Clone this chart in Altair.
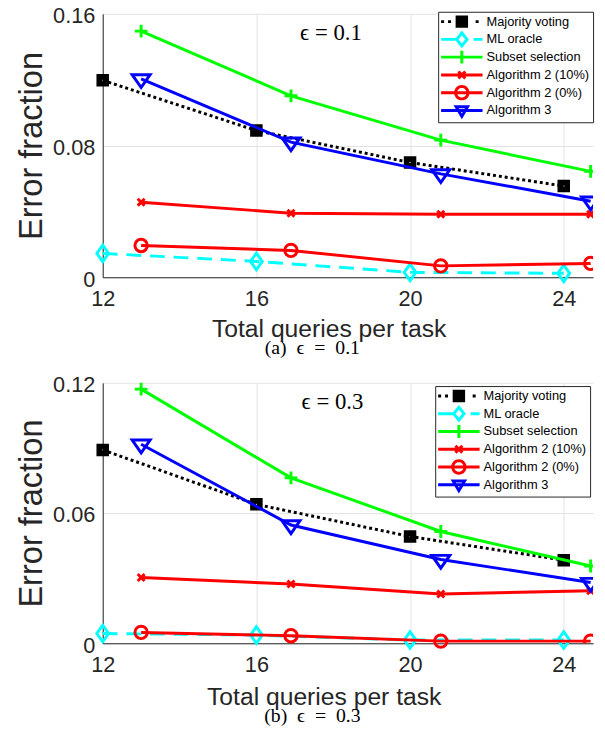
import altair as alt
import pandas as pd

# ---------------- data ----------------
series = ["Majority voting", "ML oracle", "Subset selection",
          "Algorithm 2 (10%)", "Algorithm 2 (0%)", "Algorithm 3"]
colors = ["#000000", "#00FFFF", "#00FF00", "#FF0000", "#FF0000", "#0000FF"]

x_base = [12, 16, 20, 24]          # Majority voting, ML oracle
x_alg = [13, 16.9, 20.8, 24.7]     # the other methods
x_ticks = [12, 16, 20, 24]

# panel (a) eps = 0.1
a_mv = [0.1196, 0.0891, 0.0697, 0.0554]
a_ml = [0.0145, 0.0096, 0.0030, 0.0024]
a_ss = [0.1495, 0.1102, 0.0833, 0.0643]
a_a2_10 = [0.0456, 0.0389, 0.0383, 0.0383]
a_a2_0 = [0.0193, 0.0163, 0.0069, 0.0084]
a_a3 = [0.1205, 0.0821, 0.0628, 0.0462]
a_yticks = [0, 0.08, 0.16]

# panel (b) eps = 0.3
b_mv = [0.0891, 0.0640, 0.0492, 0.0383]
b_ml = [0.0045, 0.0038, 0.0015, 0.0015]
b_ss = [0.1171, 0.0762, 0.0515, 0.0356]
b_a2_10 = [0.0303, 0.0273, 0.0227, 0.0242]
b_a2_0 = [0.0050, 0.0035, 0.0010, 0.0010]
b_a3 = [0.0917, 0.0545, 0.0386, 0.0280]
b_yticks = [0, 0.06, 0.12]

# ---------------- styles ----------------
dashes = [[3, 3], [15, 9], None, None, None, None]

marker_paths = [
    "M-0.69,-0.69H0.69V0.69H-0.69ZM-0.3,-0.3H0.3V0.3H-0.3Z",
    "M0,-1.2L0.85,0L0,1.2L-0.85,0Z",
    "M-0.93,0H0.93M0,-0.93V0.93",
    "M-0.5,-0.5L0.5,0.5M-0.5,0.5L0.5,-0.5",
    "M-0.9,0A0.9,0.9,0,1,0,0.9,0A0.9,0.9,0,1,0,-0.9,0Z",
    "M-1.3,-0.6L1.3,-0.6L0,1.25Z",
]


def _n(v):
    s = f"{v:.3f}".rstrip("0").rstrip(".")
    return "0" if s in ("-0", "") else s


def rect(x0, y0, x1, y1):
    return f"M{_n(x0)},{_n(y0)}H{_n(x1)}V{_n(y1)}H{_n(x0)}Z"


def poly(pts):
    return "M" + "L".join(f"{_n(x)},{_n(y)}" for x, y in pts) + "Z"


H = 0.214
EXT = "M2,-1.27L2,-1.27M2,1.27L2,1.27M-1.36,0L-1.36,0M5,0L5,0"
LINE = rect(-1, -H, 5, H)
X1 = [(-0.6515, -0.3485), (-0.3485, -0.6515), (0.6515, 0.3485), (0.3485, 0.6515)]
X2 = [(-0.6515, 0.3485), (0.3485, -0.6515), (0.6515, -0.3485), (-0.3485, 0.6515)]
legend_paths = [
    EXT + rect(-1, -H, -0.571, H) + rect(0, -H, 0.429, H) + rect(1.1, -0.9, 2.9, 0.9)
    + rect(4, -H, 4.429, H),
    EXT + rect(-1, -H, 1.24, H) + rect(3.71, -H, 5, H)
    + poly([(2, -1.27), (3.025, 0), (2, 1.27), (0.975, 0)])
    + poly([(2, -0.589), (1.525, 0), (2, 0.589), (2.475, 0)]),
    EXT + LINE + rect(2 - H, -0.93, 2 + H, 0.93),
    EXT + LINE + poly([(x + 2, y) for x, y in X1]) + poly([(x + 2, y) for x, y in X2]),
    EXT + LINE + "M0.886,0A1.114,1.114,0,1,1,3.114,0A1.114,1.114,0,1,1,0.886,0Z"
    + "M1.314,0A0.686,0.686,0,1,0,2.686,0A0.686,0.686,0,1,0,1.314,0Z",
    EXT + LINE + poly([(0.8, -0.75), (3.2, -0.75), (2, 1.27)])
    + poly([(1.552, -0.322), (2, 0.432), (2.448, -0.322)]),
]

X_MAX = 24.763
W = 497
FONT = "Liberation Sans"
SERIF = "Liberation Serif"


def panel(vals, yticks, height, note, note_x, note_y, caption, leg_x, leg_y,
          xt_x, xt_y, cap_dx, cap_off):
    rows = []
    for s, v in zip(series, vals):
        xs = x_base if s in ("Majority voting", "ML oracle") else x_alg
        for xv, yv in zip(xs, v):
            rows.append({"series": s, "x": xv, "y": yv})
    df = pd.DataFrame(rows)

    X = alt.X("x:Q",
              scale=alt.Scale(domain=[12, X_MAX], nice=False, zero=False),
              axis=alt.Axis(values=x_ticks, title="Total queries per task",
                            titleFontSize=25, titleX=xt_x, titleY=xt_y,
                            titleBaseline="alphabetic", titleAlign="center",
                            labelPadding=12, format="d", labelFlush=False))
    Y = alt.Y("y:Q",
              scale=alt.Scale(domain=[yticks[0], yticks[-1]], nice=False),
              axis=alt.Axis(values=yticks, title="Error fraction",
                            labelExpr="datum.value == 0 ? '0' : format(datum.value, '.2f')",
                            titleFontSize=33, titleBaseline="alphabetic",
                            titlePadding=11.6, labelPadding=8, labelOffset=2))

    layers = []
    for i, s in enumerate(series):
        base = alt.Chart(df).transform_filter(alt.datum.series == s)
        lk = dict(color=colors[i], strokeWidth=3)
        if dashes[i] is not None:
            lk["strokeDash"] = dashes[i]
        layers.append(base.mark_line(**lk).encode(x=X, y=Y))
        pk = dict(shape=marker_paths[i], size=196, filled=False, strokeWidth=3,
                  color=colors[i], opacity=1)
        layers.append(base.transform_filter(alt.datum.x < 24.5).mark_point(**pk)
                      .encode(x=X, y=Y))
        layers.append(base.transform_filter(alt.datum.x > 24.5).mark_point(clip=True, **pk)
                      .encode(x=X, y=Y))

    leg = alt.Legend(title=None, orient="none", legendX=leg_x, legendY=leg_y,
                     symbolSize=196, symbolStrokeWidth=0, symbolOpacity=1,
                     labelFont=FONT, labelFontSize=13, labelColor="black",
                     labelOffset=32, labelLimit=400,
                     padding=3, rowPadding=0,
                     strokeColor="#262626", fillColor="white")
    legend_layer = alt.Chart(df).mark_point(opacity=0, filled=True, strokeWidth=0,
                                            clip=True).encode(
        x=X, y=Y,
        color=alt.Color("series:N", scale=alt.Scale(domain=series, range=colors), legend=leg),
        shape=alt.Shape("series:N", scale=alt.Scale(domain=series, range=legend_paths), legend=leg),
    )

    note_df = pd.DataFrame({"x": [note_x], "y": [note_y], "t": [note]})
    note_layer = alt.Chart(note_df).mark_text(font=SERIF, fontSize=23, color="black").encode(
        x=X, y=Y, text="t:N")

    return alt.layer(*layers, legend_layer, note_layer).properties(
        width=W, height=height,
        title=alt.TitleParams(caption, orient="bottom", font=SERIF, fontSize=20,
                              fontWeight="normal", color="black", frame="group",
                              anchor="middle", dx=cap_dx, offset=cap_off),
    )


pa = panel([a_mv, a_ml, a_ss, a_a2_10, a_a2_0, a_a3], a_yticks, 267,
           "\u03f5 = 0.1", 17.94, 0.1485, "(a)\u2002\u03f5\u2002=\u20020.1",
           340, -2.1, 229, 60, -36, -3.5)
pb = panel([b_mv, b_ml, b_ss, b_a2_10, b_a2_0, b_a3], b_yticks, 264,
           "\u03f5 = 0.3", 17.98, 0.1109, "(b)\u2002\u03f5\u2002=\u20020.3",
           337, 3.3, 224, 62, -36, -3)

chart = alt.vconcat(pa, pb, spacing=16).resolve_scale(
    color="independent", shape="independent", x="independent", y="independent"
).resolve_legend(color="independent", shape="independent").properties(
    padding={"left": 7, "top": -8, "right": 0, "bottom": 0}
).configure_view(stroke=None).configure_axis(
    domainColor="#262626", domainWidth=1, gridColor="#e3e3e3", ticks=False,
    labelFont=FONT, labelFontSize=22, labelColor="#262626",
    titleFont=FONT, titleColor="#262626", titleFontWeight="normal",
)

chart.save("out.html", embed_options={"renderer": "svg", "actions": False})
